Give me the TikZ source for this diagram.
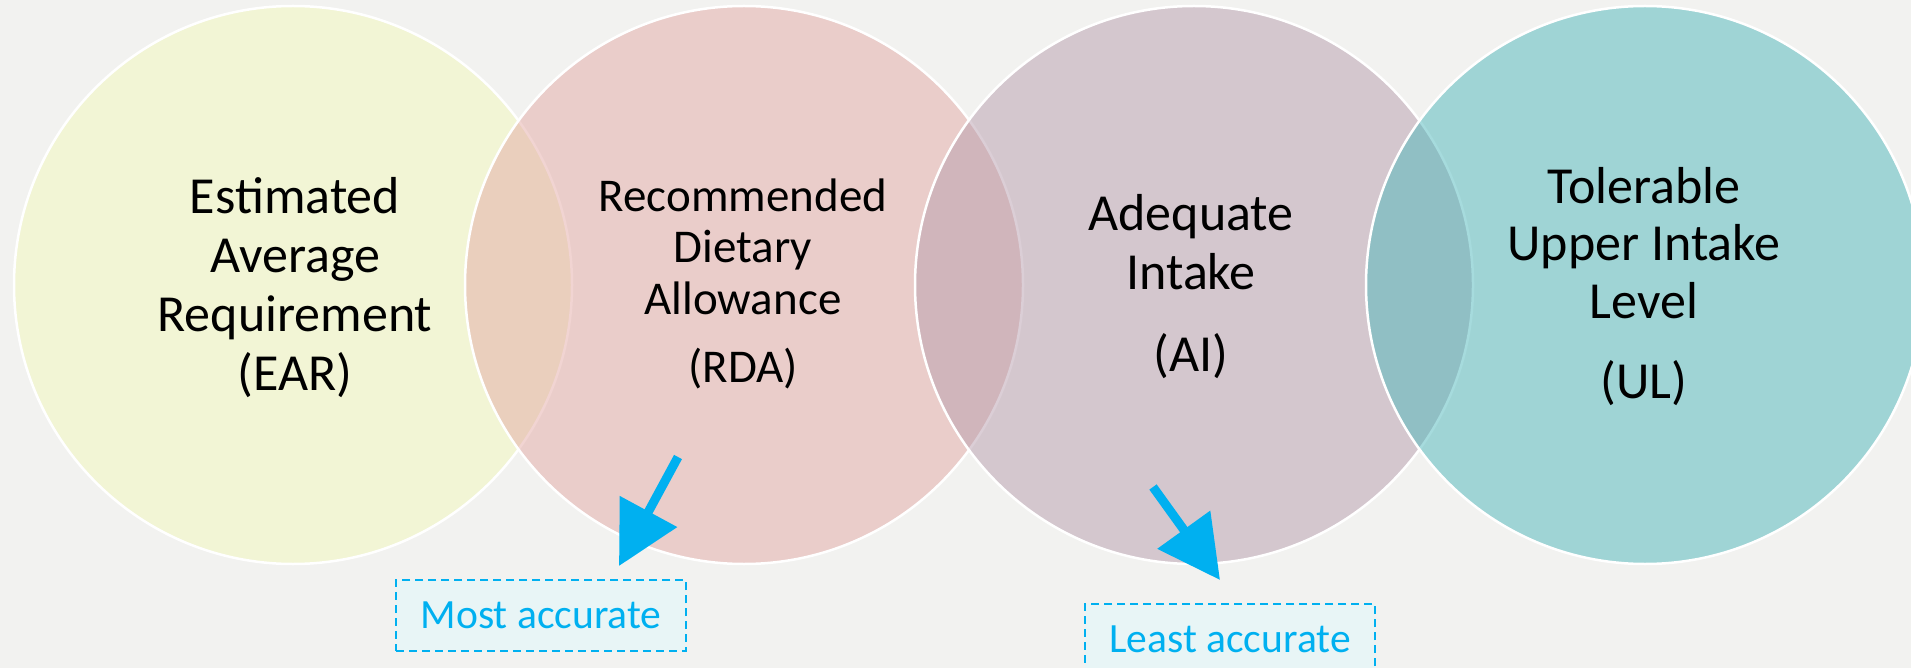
\documentclass[tikz,border=0pt]{standalone}
\usepackage{fontspec}
\setmainfont{Carlito}
\usetikzlibrary{arrows.meta}

\definecolor{pagebg}{RGB}{242,242,240}
\definecolor{earfill}{RGB}{242,248,188}
\definecolor{rdafill}{RGB}{228,170,166}
\definecolor{aifill}{RGB}{184,158,174}
\definecolor{ulfill}{RGB}{78,184,188}
\definecolor{accent}{RGB}{0,176,240}
\definecolor{notefill}{RGB}{232,245,246}

\begin{document}
\begin{tikzpicture}[x=1pt,y=-1pt,
  venn/.style={circle, minimum size=558pt, inner sep=0pt, draw=white,
    line width=2.5pt, fill opacity=0.5},
  % multi-line texts are placed by the baseline of their last line
  term/.style={align=center, anchor=base, text=black},
  bigterm/.style={term, font=\fontsize{52}{59}\selectfont},
  pointer/.style={draw=accent, line width=9pt,
    -{Triangle[length=62pt,width=63pt]}},
  note/.style={draw=accent, dash pattern=on 8pt off 5pt, line width=1.8pt,
    fill=notefill, text=accent, minimum width=290pt, minimum height=71pt,
    inner sep=0pt, font=\fontsize{41.6}{50}\selectfont}]

  % page
  \useasboundingbox (0,0) rectangle (1911,668);
  \clip (0,0) rectangle (1911,668);
  \fill[pagebg] (0,0) rectangle (1911,668);

  % the four overlapping reference-value circles
  \node[venn, fill=earfill] (earc) at (293,285) {};
  \node[venn, fill=rdafill] (rdac) at (744,285) {};
  \node[venn, fill=aifill]  (aic)  at (1194,285) {};
  \node[venn, fill=ulfill]  (ulc)  at (1645,285) {};

  % circle texts
  \node[bigterm] (eart) at (295,390) {Estimated\\Average\\Requirement\\(EAR)};

  \node[term, font=\fontsize{47}{52}\selectfont] (rdat) at (743,315)
    {Recommended\\Dietary\\Allowance};
  \node[term, font=\fontsize{47}{52}\selectfont] (rdaa) at (743,382) {(RDA)};

  \node[bigterm] (ait) at (1191,290) {Adequate\\Intake};
  \node[bigterm] (aia) at (1191,371) {(AI)};

  \node[term, font=\fontsize{52}{57.5}\selectfont] (ult) at (1644,318)
    {Tolerable\\Upper Intake\\Level};
  \node[bigterm] (ula) at (1644,398) {(UL)};

  % accuracy notes
  \node[note] (most)  at (541,615.5)  {Most accurate};
  \node[note] (least) at (1230,639.5) {Least accurate};

  % pointers
  \coordinate (p1s) at (678,457);
  \coordinate (p1e) at (619,566);
  \coordinate (p2s) at (1153,487);
  \coordinate (p2e) at (1220,580);
  \draw[pointer] (p1s) -- (p1e);
  \draw[pointer] (p2s) -- (p2e);
\end{tikzpicture}
\end{document}
